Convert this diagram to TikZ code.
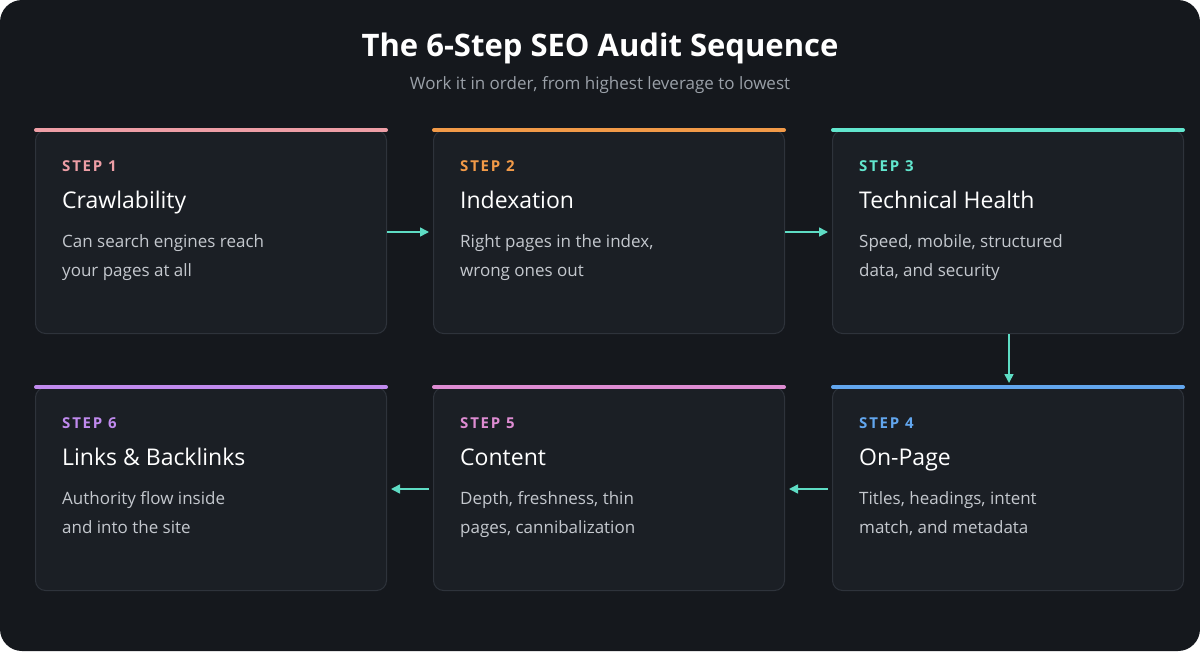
\documentclass[tikz,border=0pt]{standalone}
\usepackage{fontspec}
\setmainfont{Open Sans}
\newfontfamily\stepfont{Open Sans}[LetterSpace=12]
\usetikzlibrary{arrows.meta}
\definecolor{bg}{HTML}{15181D}
\definecolor{card}{HTML}{1B1F25}
\definecolor{cardline}{HTML}{2E333B}
\definecolor{desc}{HTML}{C4C8CE}
\definecolor{sub}{HTML}{9AA0A8}
\definecolor{arr}{HTML}{5EDCC4}
\definecolor{cA}{HTML}{EE9EA6}
\definecolor{cB}{HTML}{F29A48}
\definecolor{cC}{HTML}{62E6CE}
\definecolor{cD}{HTML}{62A6EE}
\definecolor{cE}{HTML}{DE8CD2}
\definecolor{cF}{HTML}{C08AEE}
\tikzset{
 x=1pt,y=-1pt,
 cardbox/.style={fill=card,draw=cardline,line width=1pt,rounded corners=10pt,minimum width=351pt,minimum height=203pt,anchor=north west},
 steplbl/.style={anchor=base west,inner sep=0pt,font=\stepfont\bfseries\fontsize{15}{18}\selectfont},
 ttl/.style={anchor=base west,inner sep=0pt,text=white,font=\fontsize{23}{28}\selectfont},
 dsc/.style={anchor=north west,inner sep=0pt,text=desc,align=left,font=\fontsize{17}{29.5}\selectfont},
 conn/.style={arr,line width=1.6pt,-{Triangle[length=9pt,width=9pt]}}
}
\newcommand{\mkcard}[8]{%
 \node[cardbox] (#1) at (#2,#3) {};
 \draw[#4,line width=4pt,line cap=round] ([xshift=1pt]#1.north west) -- ([xshift=-1pt]#1.north east);
 \node[steplbl,text=#4] (#1s) at (#2+27,#3+41) {#5};
 \node[ttl] (#1t) at (#2+27,#3+78) {#6};
 \node[dsc] (#1d) at (#2+27,#3+104) {#7\\#8};
}
\begin{document}
\begin{tikzpicture}
\useasboundingbox (0,0) rectangle (1200,651);
\fill[white] (0,0) rectangle (1200,651);
\fill[bg,rounded corners=22pt] (0,0) rectangle (1200,651);
\node[text=white,font=\bfseries\fontsize{31}{36}\selectfont] (title) at (600,48) {The 6-Step SEO Audit Sequence};
\node[text=sub,font=\fontsize{17}{20}\selectfont] (subtitle) at (600,85) {Work it in order, from highest leverage to lowest};
\mkcard{a}{35}{130}{cA}{STEP 1}{Crawlability}{Can search engines reach}{your pages at all}
\mkcard{b}{433}{130}{cB}{STEP 2}{Indexation}{Right pages in the index,}{wrong ones out}
\mkcard{c}{832}{130}{cC}{STEP 3}{Technical Health}{Speed, mobile, structured}{data, and security}
\mkcard{d}{832}{387}{cD}{STEP 4}{On-Page}{Titles, headings, intent}{match, and metadata}
\mkcard{e}{433}{387}{cE}{STEP 5}{Content}{Depth, freshness, thin}{pages, cannibalization}
\mkcard{f}{35}{387}{cF}{STEP 6}{Links \& Backlinks}{Authority flow inside}{and into the site}
\draw[conn] (a.east) ++(0,0) -- ([xshift=-4pt]b.west);
\draw[conn] (b.east) -- ([xshift=-4pt]c.west);
\draw[conn] ([xshift=1pt]c.south) -- ([xshift=1pt,yshift=4pt]d.north);
\draw[conn] ([xshift=-4pt]d.west) -- ([xshift=4pt]e.east);
\draw[conn] ([xshift=-4pt]e.west) -- ([xshift=4pt]f.east);
\end{tikzpicture}
\end{document}
